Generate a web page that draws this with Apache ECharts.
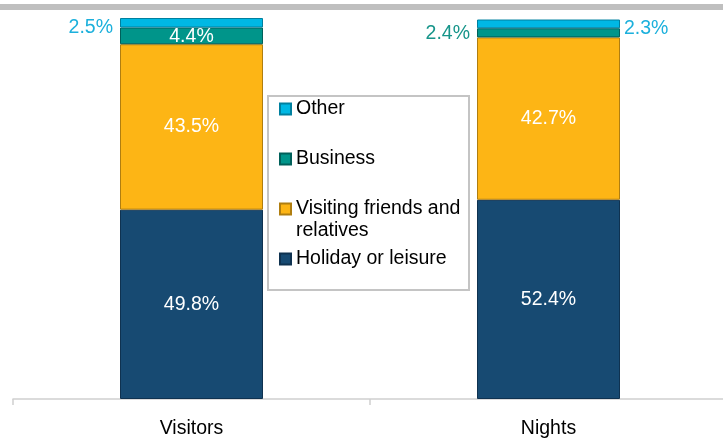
<!DOCTYPE html>
<html>
<head>
<meta charset="utf-8">
<script src="https://cdn.jsdelivr.net/npm/echarts@6/dist/echarts.min.js"></script>
<style>html,body{margin:0;padding:0;background:#fff;}#c{width:723px;height:438px;}</style>
</head>
<body>
<div id="c"></div>
<script>
var categories = ['Visitors', 'Nights'];
var holiday = [49.8, 52.4];
var vfr = [43.5, 42.7];
var business = [4.4, 2.4];
var other = [2.5, 2.3];
var seriesNames = ['Holiday or leisure', 'Visiting friends and relatives', 'Business', 'Other'];

var chart = echarts.init(document.getElementById('c'));
var FONT = 'Liberation Sans, Arial, sans-serif';
var FS = 19.5;
function fmt(p) { return p.value.toFixed(1) + '%'; }
var inside = {show: true, position: 'inside', color: '#fff', fontSize: FS, fontFamily: FONT, formatter: fmt};

function legendAt(name, top, icon, h, text) {
  return {
    data: [name], orient: 'vertical', left: 279, top: top, padding: 0, z: 10,
    itemWidth: 11, itemHeight: h, icon: icon,
    formatter: function () { return text; },
    textStyle: {fontSize: FS, fontFamily: FONT, color: '#000', lineHeight: 22}
  };
}

var option = {
  animation: false,
  grid: {left: 13, width: 714, top: 18, bottom: 39, containLabel: false, outerBoundsMode: 'none'},
  graphic: [
    {type: 'rect', left: 0, top: 4, shape: {width: 723, height: 6}, style: {fill: '#bfbfbf'}, z: 1},
    {type: 'rect', left: 267, top: 95, shape: {width: 201, height: 194}, style: {fill: '#fff', stroke: '#c4c4c4', lineWidth: 2}, z: 1}
  ],
  legend: [
    legendAt('Other', 98, 'rect', 11, 'Other'),
    legendAt('Business', 148, 'rect', 11, 'Business'),
    legendAt('Visiting friends and relatives', 198, 'path://M0,0h11v11h-11zM0,33', 33, 'Visiting friends and\nrelatives'),
    legendAt('Holiday or leisure', 248, 'rect', 11, 'Holiday or leisure')
  ],
  xAxis: {
    type: 'category', data: categories,
    axisLine: {lineStyle: {color: '#d0d0d0', width: 1.5}},
    axisTick: {show: true, length: 6, lineStyle: {color: '#d0d0d0', width: 1.5}},
    axisLabel: {color: '#000', fontSize: FS, fontFamily: FONT, margin: 20}
  },
  yAxis: {type: 'value', min: 0, max: 100.2, show: false, splitLine: {show: false}},
  series: [
    {name: seriesNames[0], type: 'bar', stack: 's', barWidth: 143, data: holiday,
     itemStyle: {color: '#174a72', borderColor: '#0f3250', borderWidth: 1}, label: inside},
    {name: seriesNames[1], type: 'bar', stack: 's', barWidth: 143, data: vfr,
     itemStyle: {color: '#fdb515', borderColor: '#b07e10', borderWidth: 1}, label: inside},
    {name: seriesNames[2], type: 'bar', stack: 's', barWidth: 143,
     data: [
       {value: business[0], label: {offset: [0, 1]}},
       {value: business[1], label: {position: 'left', distance: 7, offset: [0, 1], color: '#17958a'}}
     ],
     itemStyle: {color: '#00958a', borderColor: '#00605a', borderWidth: 1}, label: inside},
    {name: seriesNames[3], type: 'bar', stack: 's', barWidth: 143,
     data: [
       {value: other[0], label: {position: 'left', distance: 7, offset: [0, 5]}},
       {value: other[1], label: {position: 'right', distance: 4, offset: [0, 5]}}
     ],
     itemStyle: {color: '#00b8e4', borderColor: '#00809f', borderWidth: 1},
     label: {show: true, color: '#1cb0dc', fontSize: FS, fontFamily: FONT, formatter: fmt}}
  ]
};
chart.setOption(option);
</script>
</body>
</html>
